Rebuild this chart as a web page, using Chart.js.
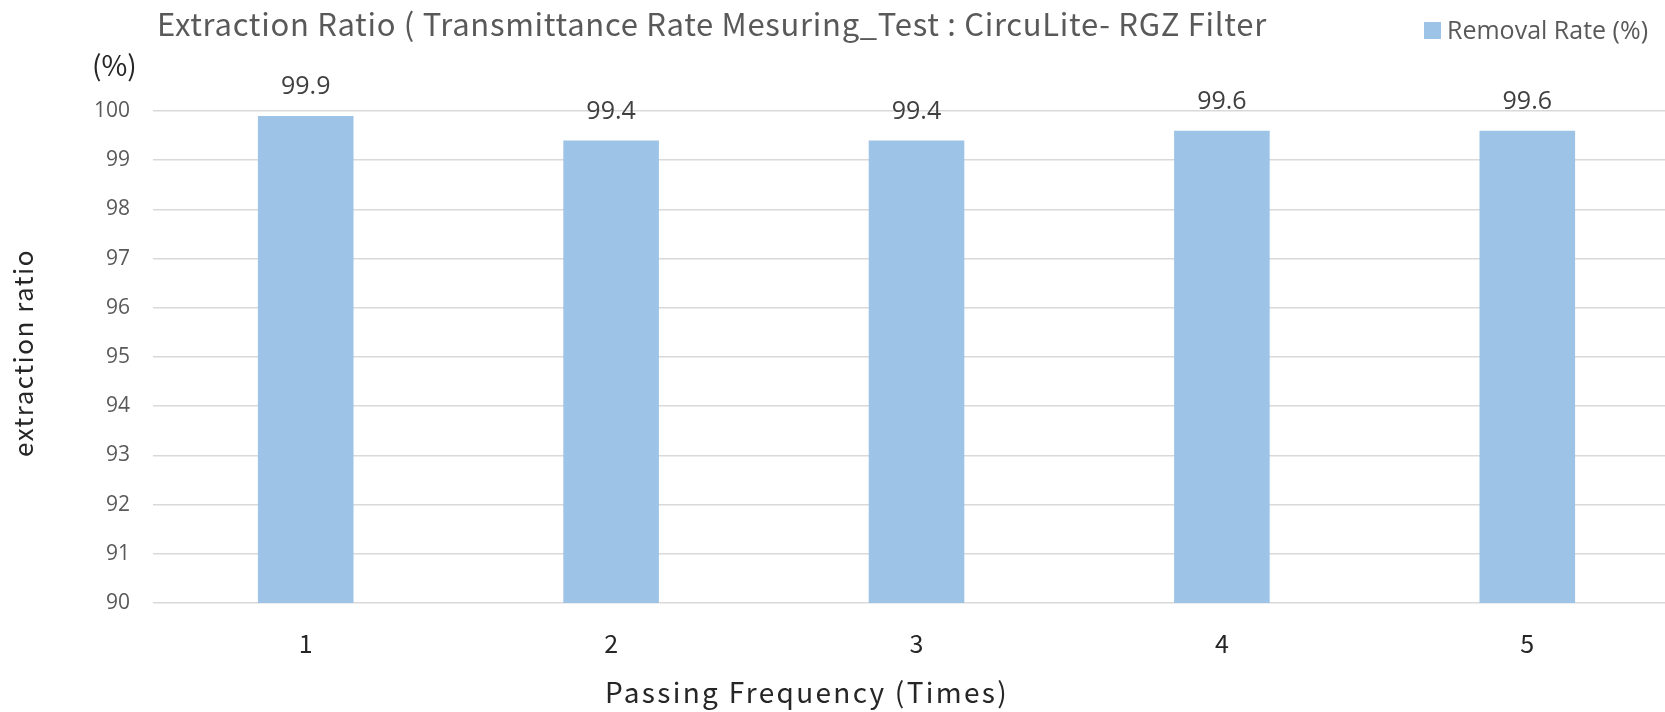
<!DOCTYPE html>
<html>
<head>
<meta charset="utf-8">
<script src="https://cdn.jsdelivr.net/npm/chart.js@4.4.1/dist/chart.umd.min.js"></script>
<style>
  html, body { margin: 0; padding: 0; background: #fff; overflow: hidden; }
  /* la zone de tracé déborde un peu à droite comme dans l'original */
  #wrap { width: 1665px; height: 712px; overflow: hidden; }
</style>
</head>
<body>
<div id="wrap"><canvas id="chart" width="1680" height="712"></canvas></div>
<script>
// data
const passes = ['1', '2', '3', '4', '5'];
const removalRate = [99.9, 99.4, 99.4, 99.6, 99.6];
const yTicks = [90, 91, 92, 93, 94, 95, 96, 97, 98, 99, 100];

const JP = '"Noto Sans CJK JP", "Noto Sans", sans-serif';
const UI = '"Open Sans", "Noto Sans", sans-serif';
const BAR = '#9dc3e6';

// texte dessiné à la main : titre, légende, titres d'axes, étiquettes
const decor = {
    id: 'decor',
    afterDatasetsDraw(chart) {
        const ctx = chart.ctx;
        ctx.save();
        ctx.textBaseline = 'alphabetic';

        // titre
        ctx.fillStyle = '#595959';
        ctx.font = '31px ' + JP;
        ctx.letterSpacing = '0.7px';
        ctx.textAlign = 'left';
        ctx.fillText('Extraction Ratio ( Transmittance Rate Mesuring_Test : CircuLite- RGZ Filter', 157, 36);
        ctx.letterSpacing = '0px';

        // légende
        ctx.fillStyle = BAR;
        ctx.fillRect(1424, 22, 17, 17);
        ctx.fillStyle = '#595959';
        ctx.font = '25px ' + UI;
        ctx.fillText('Removal Rate (%)', 1447, 39);

        // unité
        ctx.fillStyle = '#262626';
        ctx.font = '28px ' + JP;
        ctx.fillText('(%)', 92, 76);

        // titre axe Y
        ctx.save();
        ctx.translate(33, 353);
        ctx.rotate(-Math.PI / 2);
        ctx.textAlign = 'center';
        ctx.font = '26px ' + JP;
        ctx.letterSpacing = '1.5px';
        ctx.fillStyle = '#262626';
        ctx.fillText('extraction ratio', 0, 0);
        ctx.restore();

        // titre axe X
        ctx.textAlign = 'center';
        ctx.font = '28px ' + JP;
        ctx.letterSpacing = '2.3px';
        ctx.fillStyle = '#262626';
        ctx.fillText('Passing Frequency (Times)', 807, 703);
        ctx.letterSpacing = '0px';

        // valeurs au-dessus des barres
        ctx.font = '25px ' + UI;
        ctx.fillStyle = '#404040';
        chart.getDatasetMeta(0).data.forEach((bar, i) => {
            ctx.fillText(removalRate[i].toFixed(1), bar.x, bar.y - 22);
        });

        ctx.restore();
    }
};

new Chart(document.getElementById('chart'), {
    type: 'bar',
    data: {
        labels: passes,
        datasets: [{
            label: 'Removal Rate (%)',
            data: removalRate,
            backgroundColor: BAR,
            borderWidth: 0,
            barPercentage: 0.313,
            categoryPercentage: 1
        }]
    },
    options: {
        responsive: false,
        animation: false,
        layout: { padding: { top: 111, left: 0, right: 0, bottom: 0 } },
        plugins: {
            legend: { display: false },
            title: { display: false },
            tooltip: { enabled: false }
        },
        scales: {
            x: {
                grid: { display: false },
                border: { display: false },
                ticks: { color: '#262626', font: { family: JP, size: 25 }, padding: 17 },
                afterFit: (s) => { s.height = 109; }
            },
            y: {
                min: yTicks[0],
                max: yTicks[yTicks.length - 1],
                afterBuildTicks: (s) => { s.ticks = yTicks.map(v => ({ value: v })); },
                grid: { color: '#d9d9d9', lineWidth: 1.5, drawTicks: false },
                border: { display: false },
                ticks: { color: '#595959', font: { family: UI, size: 21 }, padding: 23 },
                afterFit: (s) => { s.width = 153; }
            }
        }
    },
    plugins: [decor]
});
</script>
</body>
</html>
